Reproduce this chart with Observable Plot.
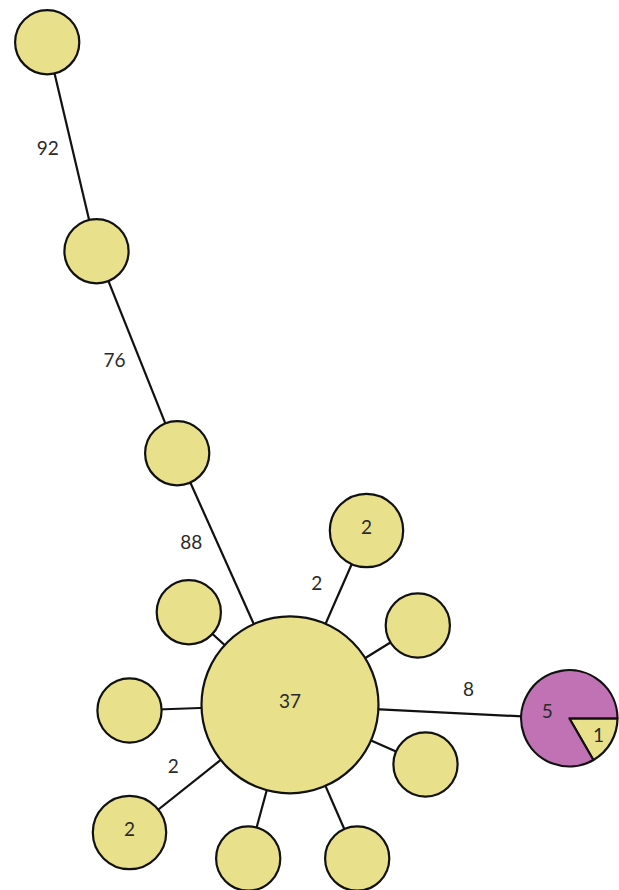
<!DOCTYPE html>
<html>
<head>
<meta charset="utf-8">
<script src="https://cdn.jsdelivr.net/npm/d3@7"></script>
<script src="https://cdn.jsdelivr.net/npm/@observablehq/plot@0.6"></script>
<style>
  html, body { margin: 0; padding: 0; background: #fff; }
  #chart svg { display: block; }
</style>
</head>
<body>
<div id="chart"></div>
<script>
// ---- data ----
const nodeIds    = ["n1", "n2", "n3", "hub", "t2", "ul", "ur", "l", "r", "bl2", "b1", "b2", "mix"];
const nodeX      = [46.7, 96, 176.7, 289.5, 366, 188.3, 417.3, 129, 425, 129, 247.7, 356.7, 569.3];
const nodeY      = [41.7, 250.7, 452.7, 704.3, 530, 611.7, 625, 710, 764, 832, 858, 858, 718.3];
const nodeCount  = [1, 1, 1, 37, 2, 1, 1, 1, 1, 2, 1, 1, 6];
const nodeLabel  = ["", "", "", "37", "2", "", "", "", "", "2", "", "", ""];

// mixed node composition
const mixGroups  = ["B", "A"];
const mixCounts  = [1, 5];
const mixLabels  = ["1", "5"];

// edges
const edgeSource = ["n1", "n2", "n3", "hub", "hub", "hub", "hub", "hub", "hub", "hub", "hub", "hub"];
const edgeTarget = ["n2", "n3", "hub", "t2", "ul", "ur", "l", "r", "bl2", "b1", "b2", "mix"];
const edgeLabel  = ["92", "76", "88", "2", "", "", "", "", "2", "", "", "8"];
const edgeSide   = [1, 1, 1, -1, 1, 1, 1, 1, 1, 1, 1, -1];
const edgeLabelT = [0.48, 0.5, 0.36, 0.5, 0.5, 0.5, 0.5, 0.5, 0.52, 0.5, 0.5, 0.62];

// ---- build tables ----
const colors = {A: "#c072b4", B: "#e8e08a"};
const nodes = nodeIds.map((id, i) => ({id, x: nodeX[i], y: nodeY[i], count: nodeCount[i], label: nodeLabel[i]}));
const byId = new Map(nodes.map(d => [d.id, d]));
const rScale = d3.scaleSqrt().domain([0, 37]).range([21, 88.5]);

const edges = edgeSource.map((s, i) => {
  const a = byId.get(s), b = byId.get(edgeTarget[i]);
  const dx = b.x - a.x, dy = b.y - a.y, L = Math.hypot(dx, dy);
  const ux = dx / L, uy = dy / L;
  const ra = rScale(a.count), rb = rScale(b.count);
  const p1 = [a.x + ux * ra, a.y + uy * ra], p2 = [b.x - ux * rb, b.y - uy * rb];
  const t = edgeLabelT[i];
  const mx = p1[0] + (p2[0] - p1[0]) * t, my = p1[1] + (p2[1] - p1[1]) * t;
  const side = edgeSide[i];
  return {a, b, label: edgeLabel[i], lx: mx + side * -uy * 24, ly: my + side * ux * 24};
});

const plainNodes = nodes.filter(d => d.id !== "mix");
const mixNode = byId.get("mix");

const mixSlices = mixGroups.map((g, i) => ({group: g, count: mixCounts[i], label: mixLabels[i]}));
const FONT = "Lato, 'Open Sans', sans-serif";

function pieMark(index, scales, values, dimensions, context) {
  const cx = scales.x(mixNode.x), cy = scales.y(mixNode.y);
  const r = rScale(mixNode.count);
  const arcs = d3.pie().sort(null).value(d => d.count)
    .startAngle(Math.PI / 2).endAngle(Math.PI / 2 + 2 * Math.PI)(mixSlices);
  const arc = d3.arc().innerRadius(0).outerRadius(r);
  const g = d3.create("svg:g").attr("transform", `translate(${cx},${cy})`);
  g.selectAll("path").data(arcs).join("path")
    .attr("d", arc)
    .attr("fill", d => colors[d.data.group])
    .attr("stroke", "#111")
    .attr("stroke-width", 2.2)
    .attr("stroke-linejoin", "round");
  const labelArc = d3.arc().innerRadius(r * 0.7).outerRadius(r * 0.7);
  g.selectAll("text").data(arcs).join("text")
    .attr("transform", d => {
      const [x, y] = d.data.group === "A" ? [-22, -7] : labelArc.centroid(d);
      return `translate(${x},${y})`;
    })
    .attr("text-anchor", "middle")
    .attr("dy", "0.35em")
    .attr("font-family", FONT)
    .attr("font-size", 19)
    .attr("fill", "#2a2a2a")
    .text(d => d.data.label);
  return g.node();
}

const chart = Plot.plot({
  width: 619,
  height: 890,
  margin: 0,
  x: {domain: [0, 619], range: [0, 619], axis: null},
  y: {domain: [0, 890], range: [0, 890], axis: null},
  r: {type: "identity"},
  style: {background: "#fff", fontFamily: FONT},
  marks: [
    Plot.link(edges, {
      x1: d => d.a.x, y1: d => d.a.y, x2: d => d.b.x, y2: d => d.b.y,
      stroke: "#111", strokeWidth: 2.2
    }),
    Plot.dot(plainNodes, {
      x: "x", y: "y", r: d => rScale(d.count),
      fill: colors.B, stroke: "#111", strokeWidth: 2.2, fillOpacity: 1
    }),
    pieMark,
    Plot.text(plainNodes.filter(d => d.label), {
      x: "x", y: d => d.y - 3, text: "label", fontSize: 19, fill: "#2a2a2a"
    }),
    Plot.text(edges.filter(d => d.label), {
      x: "lx", y: "ly", text: "label", fontSize: 19, fill: "#2a2a2a"
    })
  ]
});
document.getElementById("chart").appendChild(chart);
</script>
</body>
</html>
